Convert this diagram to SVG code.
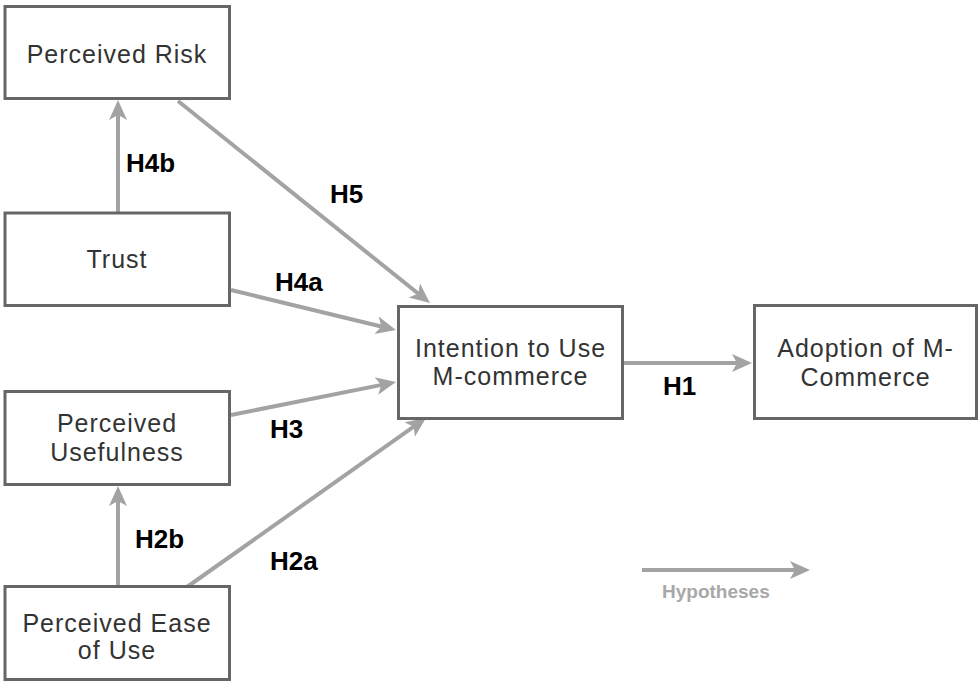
<svg xmlns="http://www.w3.org/2000/svg" width="979" height="682" viewBox="0 0 979 682">
<style>
.box{fill:#fff;stroke:#666;stroke-width:3}
.nt{font-family:"Liberation Sans",Arial,sans-serif;font-size:25px;letter-spacing:1px;fill:#333;text-anchor:middle}
.lb{font-family:"Liberation Sans",Arial,sans-serif;font-size:26px;font-weight:bold;fill:#000}
.ln{stroke:#a3a3a3;stroke-width:4;fill:none;marker-end:url(#ah)}
.hy{font-family:"Liberation Sans",Arial,sans-serif;font-size:19px;font-weight:bold;fill:#a8a8a8}
</style>
<defs>
<marker id="ah" markerUnits="userSpaceOnUse" markerWidth="20" markerHeight="20" viewBox="0 0 20 20" refX="8" refY="10" orient="auto">
<path d="M0,1 L20,10 L0,19 L5,10 z" fill="#a3a3a3"/>
</marker>
</defs>
<rect width="979" height="682" fill="#fff"/>
<g id="connectors">
<line class="ln" x1="118" y1="213" x2="118" y2="112"/>
<line class="ln" x1="118" y1="586" x2="118" y2="498"/>
<line class="ln" x1="178" y1="101" x2="420.6" y2="295.5"/>
<line class="ln" x1="231" y1="290" x2="384.3" y2="327.2"/>
<line class="ln" x1="231" y1="415" x2="384.2" y2="384.4"/>
<line class="ln" x1="187" y1="587" x2="416.2" y2="424.9"/>
<line class="ln" x1="624" y1="363" x2="740" y2="363"/>
<text class="lb" x="126" y="172">H4b</text>
<text class="lb" x="330" y="203">H5</text>
<text class="lb" x="275" y="291">H4a</text>
<text class="lb" x="270" y="438">H3</text>
<text class="lb" x="270" y="570">H2a</text>
<text class="lb" x="135" y="548">H2b</text>
<text class="lb" x="663" y="395">H1</text>
</g>
<g id="risk">
<rect class="box" x="5" y="6.5" width="224.5" height="92"/>
<text class="nt" x="117" y="63">Perceived Risk</text>
</g>
<g id="trust">
<rect class="box" x="5" y="213" width="224.5" height="92.5"/>
<text class="nt" x="117" y="268">Trust</text>
</g>
<g id="usefulness">
<rect class="box" x="5" y="391.5" width="224.5" height="93"/>
<text class="nt" x="117" y="432">Perceived</text>
<text class="nt" x="117" y="461">Usefulness</text>
</g>
<g id="ease">
<rect class="box" x="5" y="586.5" width="224.5" height="93"/>
<text class="nt" x="117" y="632">Perceived Ease</text>
<text class="nt" x="117" y="659">of Use</text>
</g>
<g id="intention">
<rect class="box" x="398.5" y="306.5" width="224" height="112"/>
<text class="nt" x="510.5" y="357">Intention to Use</text>
<text class="nt" x="510.5" y="385">M-commerce</text>
</g>
<g id="adoption">
<rect class="box" x="754.5" y="305.5" width="222" height="113"/>
<text class="nt" x="865.5" y="357">Adoption of M-</text>
<text class="nt" x="865.5" y="386">Commerce</text>
</g>
<g id="legend">
<line class="ln" x1="642" y1="570" x2="798" y2="570"/>
<text class="hy" x="662" y="598">Hypotheses</text>
</g>
</svg>
